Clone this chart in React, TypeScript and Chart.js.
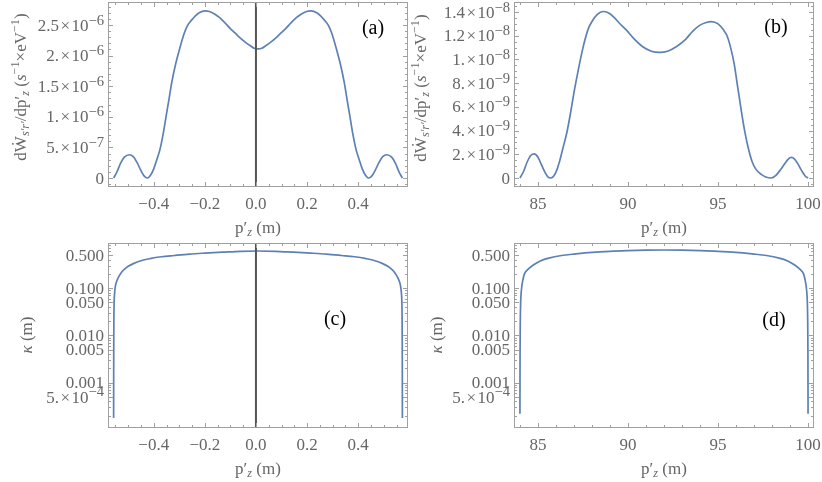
import React, { useEffect, useRef } from "react";
import { Chart, registerables } from "chart.js";

Chart.register(...registerables);

const SERIF = "'Liberation Serif', 'Times New Roman', 'DejaVu Serif', serif";
const CURVE = "#5e81b5";
const FRAME = "#a0a0a0";
const TEXT = "#666666";
const ZERO = "#555555";

// ---------------- Panel (a) ----------------
const xA = [-0.557, -0.545, -0.530, -0.515, -0.496, -0.480, -0.465, -0.450, -0.437, -0.425,
  -0.412, -0.400, -0.388, -0.376, -0.364, -0.352, -0.341, -0.330, -0.315, -0.300,
  -0.281, -0.268, -0.252, -0.237, -0.222, -0.200, -0.182, -0.162, -0.142, -0.122,
  -0.102, -0.082, -0.062, -0.042, -0.022, -0.007, 0.008,
  0.023, 0.038, 0.058, 0.078, 0.098, 0.118, 0.138, 0.158, 0.178, 0.198,
  0.216, 0.238, 0.253, 0.268, 0.284, 0.297, 0.316, 0.331, 0.346, 0.357,
  0.368, 0.380, 0.392, 0.404, 0.416, 0.428, 0.441, 0.453, 0.466, 0.481,
  0.496, 0.512, 0.531, 0.546, 0.561, 0.573];
const yA = [0, 0.09e-6, 0.24e-6, 0.34e-6, 0.38e-6, 0.35e-6, 0.25e-6, 0.12e-6, 0.03e-6, 0,
  0.05e-6, 0.15e-6, 0.30e-6, 0.46e-6, 0.70e-6, 1.00e-6, 1.27e-6, 1.55e-6, 1.85e-6, 2.09e-6,
  2.36e-6, 2.49e-6, 2.58e-6, 2.65e-6, 2.70e-6, 2.73e-6, 2.72e-6, 2.68e-6, 2.62e-6, 2.54e-6,
  2.45e-6, 2.37e-6, 2.29e-6, 2.22e-6, 2.16e-6, 2.12e-6, 2.11e-6,
  2.12e-6, 2.16e-6, 2.22e-6, 2.29e-6, 2.37e-6, 2.45e-6, 2.54e-6, 2.62e-6, 2.68e-6, 2.72e-6,
  2.73e-6, 2.70e-6, 2.65e-6, 2.58e-6, 2.49e-6, 2.36e-6, 2.09e-6, 1.85e-6, 1.55e-6, 1.27e-6,
  1.00e-6, 0.70e-6, 0.46e-6, 0.30e-6, 0.15e-6, 0.05e-6, 0, 0.03e-6, 0.12e-6, 0.25e-6,
  0.35e-6, 0.38e-6, 0.34e-6, 0.24e-6, 0.09e-6, 0];

// ---------------- Panel (b) ----------------
const xB = [84.0, 84.2, 84.4, 84.6, 84.8, 85.0, 85.2, 85.4, 85.55, 85.7,
  85.85, 86.0, 86.2, 86.4, 86.6, 86.8, 87.0, 87.2, 87.4, 87.6,
  87.8, 88.0, 88.3, 88.6, 88.9, 89.2, 89.5, 89.9, 90.3, 90.8,
  91.3, 91.75, 92.2, 92.7, 93.2, 93.6, 94.0, 94.3, 94.65, 95.0,
  95.3, 95.5, 95.7, 95.9, 96.1, 96.3, 96.5, 96.7, 96.9, 97.1,
  97.4, 97.65, 97.96, 98.2, 98.45, 98.7, 98.9, 99.07, 99.25, 99.45,
  99.65, 99.85, 100.0];
const yB = [0, 0.55e-9, 1.35e-9, 1.9e-9, 2.03e-9, 1.75e-9, 1.1e-9, 0.45e-9, 0.1e-9, 0,
  0.12e-9, 0.5e-9, 1.4e-9, 2.6e-9, 3.8e-9, 5.4e-9, 7.2e-9, 8.8e-9, 10.3e-9, 11.6e-9,
  12.6e-9, 13.2e-9, 13.8e-9, 14.05e-9, 13.95e-9, 13.6e-9, 13.1e-9, 12.5e-9, 11.8e-9, 11.1e-9,
  10.7e-9, 10.6e-9, 10.7e-9, 11.1e-9, 11.7e-9, 12.4e-9, 12.9e-9, 13.1e-9, 13.2e-9, 13.0e-9,
  12.5e-9, 12.0e-9, 11.0e-9, 9.6e-9, 7.6e-9, 5.6e-9, 3.8e-9, 2.4e-9, 1.35e-9, 0.75e-9,
  0.3e-9, 0.08e-9, 0, 0.2e-9, 0.65e-9, 1.2e-9, 1.6e-9, 1.74e-9, 1.6e-9, 1.15e-9,
  0.6e-9, 0.15e-9, 0];

// ---------------- Panel (c) ----------------
const xC = [-0.557, -0.5568, -0.5565, -0.556, -0.555, -0.553, -0.550, -0.545, -0.538, -0.528,
  -0.515, -0.500, -0.480, -0.450, -0.415, -0.370, -0.320, -0.260, -0.200, -0.130,
  -0.060, 0.008, 0.076, 0.146, 0.216, 0.276, 0.336, 0.386, 0.431, 0.466,
  0.496, 0.516, 0.531, 0.544, 0.554, 0.561, 0.566, 0.569, 0.571, 0.572,
  0.5725, 0.5728, 0.573];
const yC = [0.00018, 0.001, 0.005, 0.02, 0.05, 0.08, 0.11, 0.14, 0.17, 0.21,
  0.25, 0.29, 0.33, 0.38, 0.42, 0.46, 0.49, 0.525, 0.55, 0.575,
  0.60, 0.61, 0.60, 0.575, 0.55, 0.525, 0.49, 0.46, 0.42, 0.38,
  0.33, 0.29, 0.25, 0.21, 0.17, 0.14, 0.11, 0.08, 0.05, 0.02,
  0.005, 0.001, 0.00018];

// ---------------- Panel (d) ----------------
const xD = [84.0, 84.003, 84.008, 84.02, 84.04, 84.08, 84.15, 84.25, 84.4, 84.7,
  85.1, 85.6, 86.3, 87.1, 88.0, 89.0, 90.0, 91.0, 92.0, 93.0,
  94.0, 95.0, 96.0, 96.9, 97.7, 98.4, 98.9, 99.3, 99.6, 99.75,
  99.85, 99.92, 99.96, 99.98, 99.992, 99.997, 100.0];
const yD = [0.00022, 0.001, 0.005, 0.02, 0.05, 0.09, 0.14, 0.20, 0.24, 0.30,
  0.37, 0.43, 0.49, 0.53, 0.57, 0.60, 0.62, 0.635, 0.64, 0.635,
  0.62, 0.60, 0.57, 0.53, 0.49, 0.43, 0.37, 0.30, 0.24, 0.20,
  0.14, 0.09, 0.05, 0.02, 0.005, 0.001, 0.00022];

// ---------------- Ticks ----------------
const xTicksSmall = [-0.4, -0.2, 0, 0.2, 0.4];
const xLabelsSmall = ["\u22120.4", "\u22120.2", "0.0", "0.2", "0.4"];
const xMinorSmall = [-0.55, -0.5, -0.45, -0.35, -0.3, -0.25, -0.15, -0.1, -0.05,
  0.05, 0.1, 0.15, 0.25, 0.3, 0.35, 0.45, 0.5, 0.55];
const xTicksLarge = [85, 90, 95, 100];
const xLabelsLarge = ["85", "90", "95", "100"];
const xMinorLarge = [84, 86, 87, 88, 89, 91, 92, 93, 94, 96, 97, 98, 99];

// "^" separates the mantissa part from the superscript exponent
const yTicksA = [0, 5e-7, 1e-6, 1.5e-6, 2e-6, 2.5e-6];
const yLabelsA = ["0", "5.\u200a\u00d7\u200a10^\u22127", "1.\u200a\u00d7\u200a10^\u22126", "1.5\u200a\u00d7\u200a10^\u22126",
  "2.\u200a\u00d7\u200a10^\u22126", "2.5\u200a\u00d7\u200a10^\u22126"];
const yMinorA = [-1e-7, 1e-7, 2e-7, 3e-7, 4e-7, 6e-7, 7e-7, 8e-7, 9e-7, 1.1e-6, 1.2e-6, 1.3e-6, 1.4e-6,
  1.6e-6, 1.7e-6, 1.8e-6, 1.9e-6, 2.1e-6, 2.2e-6, 2.3e-6, 2.4e-6, 2.6e-6, 2.7e-6, 2.8e-6];

const yTicksB = [0, 2e-9, 4e-9, 6e-9, 8e-9, 1e-8, 1.2e-8, 1.4e-8];
const yLabelsB = ["0", "2.\u200a\u00d7\u200a10^\u22129", "4.\u200a\u00d7\u200a10^\u22129", "6.\u200a\u00d7\u200a10^\u22129",
  "8.\u200a\u00d7\u200a10^\u22129", "1.\u200a\u00d7\u200a10^\u22128", "1.2\u200a\u00d7\u200a10^\u22128", "1.4\u200a\u00d7\u200a10^\u22128"];
const yMinorB = [-5e-10, 5e-10, 1e-9, 1.5e-9, 2.5e-9, 3e-9, 3.5e-9, 4.5e-9, 5e-9, 5.5e-9, 6.5e-9, 7e-9, 7.5e-9,
  8.5e-9, 9e-9, 9.5e-9, 1.05e-8, 1.1e-8, 1.15e-8, 1.25e-8, 1.3e-8, 1.35e-8, 1.45e-8];

const yTicksLog = [5e-4, 0.001, 0.005, 0.01, 0.05, 0.1, 0.5];
const yLabelsLog = ["5.\u200a\u00d7\u200a10^\u22124", "0.001", "0.005", "0.010", "0.050", "0.100", "0.500"];
const yMinorLog = [2e-4, 3e-4, 4e-4, 6e-4, 7e-4, 8e-4, 9e-4, 0.002, 0.003, 0.004, 0.006, 0.007, 0.008, 0.009,
  0.02, 0.03, 0.04, 0.06, 0.07, 0.08, 0.09, 0.2, 0.3, 0.4, 0.6, 0.7, 0.8];

const TICK_F = 17;
const TITLE_F = 17;

// ---------------- Rich text helper ----------------
type Seg = { t: string; s?: "sub" | "sup"; i?: boolean };

function segFont(seg: Seg, F: number, supScale: number) {
  const size = seg.s ? F * supScale : F;
  return `${seg.i ? "italic " : ""}${size}px ${SERIF}`;
}

function drawRich(ctx: CanvasRenderingContext2D, segs: Seg[], cx: number, cy: number, rotate: boolean, F: number, color: string,
  align: "center" | "right" = "center", supScale = 0.72) {
  ctx.save();
  ctx.translate(cx, cy);
  if (rotate) ctx.rotate(-Math.PI / 2);
  ctx.fillStyle = color;
  ctx.textBaseline = "alphabetic";
  ctx.textAlign = "left";
  let total = 0;
  const widths = segs.map((s) => {
    ctx.font = segFont(s, F, supScale);
    const w = ctx.measureText(s.t).width;
    total += w;
    return w;
  });
  let x = align === "center" ? -total / 2 : -total;
  const base = F * 0.33;
  segs.forEach((s, k) => {
    ctx.font = segFont(s, F, supScale);
    const dy = s.s === "sub" ? F * 0.22 : s.s === "sup" ? -F * 0.36 : 0;
    ctx.fillText(s.t, x, base + dy);
    x += widths[k];
  });
  ctx.restore();
}

function labelSegs(label: string): Seg[] {
  const k = label.indexOf("^");
  if (k < 0) return [{ t: label }];
  return [{ t: label.slice(0, k) }, { t: label.slice(k + 1), s: "sup" }];
}

const X_TITLE: Seg[] = [{ t: "p\u2032" }, { t: "z", s: "sub", i: true }, { t: " (m)" }];
const W_TITLE: Seg[] = [
  { t: "d\u1e86" }, { t: "s\u2032r\u2032", s: "sub", i: true }, { t: "/dp\u2032" }, { t: "z", s: "sub", i: true },
  { t: " (" }, { t: "s", i: true }, { t: "\u22121", s: "sup" }, { t: "\u00d7eV" }, { t: "\u22121", s: "sup" }, { t: ")" },
];
const K_TITLE: Seg[] = [{ t: "\u03ba", i: true }, { t: " (m)" }];

type PanelCfg = {
  xs: number[]; ys: number[];
  xMin: number; xMax: number; yMin: number; yMax: number; log: boolean;
  xTicks: number[]; xLabels: string[]; xMinor: number[];
  yTicks: number[]; yLabels: string[]; yMinor: number[];
  yAxisW: number; padRight: number; zeroLine: boolean;
  yTitle: Seg[]; yTitlePos: [number, number];
  label: string; labelPos: [number, number];
};

function makeFramePlugin(p: PanelCfg) {
  return {
    id: "frame",
    afterDraw(chart: any) {
      const { ctx, chartArea: a } = chart;
      const xs = chart.scales.x, ys = chart.scales.y;
      ctx.save();
      ctx.strokeStyle = FRAME;
      ctx.lineWidth = 1;
      const L = Math.round(a.left) + 0.5, R = Math.round(a.right) - 0.5;
      const T = Math.round(a.top) + 0.5, B = Math.round(a.bottom) - 0.5;
      ctx.strokeRect(L, T, R - L, B - T);
      ctx.beginPath();
      const tickX = (v: number, len: number) => {
        const q = Math.round(xs.getPixelForValue(v)) + 0.5;
        if (q < L || q > R) return;
        ctx.moveTo(q, B); ctx.lineTo(q, B - len);
        ctx.moveTo(q, T); ctx.lineTo(q, T + len);
      };
      const tickY = (v: number, len: number) => {
        const q = Math.round(ys.getPixelForValue(v)) + 0.5;
        if (q < T || q > B) return;
        ctx.moveTo(L, q); ctx.lineTo(L + len, q);
        ctx.moveTo(R, q); ctx.lineTo(R - len, q);
      };
      p.xTicks.forEach((v) => tickX(v, 4.5));
      p.xMinor.forEach((v) => tickX(v, 2.5));
      p.yTicks.forEach((v) => tickY(v, 4.5));
      p.yMinor.forEach((v) => tickY(v, 2.5));
      ctx.stroke();
      ctx.restore();
      // y tick labels positioned by the y scale
      p.yTicks.forEach((v, i) => {
        drawRich(ctx, labelSegs(p.yLabels[i]), a.left - 4, ys.getPixelForValue(v), false, TICK_F, TEXT, "right", 0.86);
      });
      drawRich(ctx, X_TITLE, (a.left + a.right) / 2, 227, false, TITLE_F, TEXT);
      drawRich(ctx, p.yTitle, p.yTitlePos[0], p.yTitlePos[1], true, TITLE_F, TEXT);
      ctx.save();
      ctx.fillStyle = "#000";
      ctx.font = `20px ${SERIF}`;
      ctx.textAlign = "center";
      ctx.textBaseline = "middle";
      ctx.fillText(p.label, p.labelPos[0], p.labelPos[1]);
      ctx.restore();
    },
  };
}

function zeroPad(s: any) {
  s.paddingLeft = 0; s.paddingRight = 0; s.paddingTop = 0; s.paddingBottom = 0;
}

function buildConfig(p: PanelCfg): any {
  const datasets: any[] = [];
  if (p.zeroLine) {
    datasets.push({
      data: [{ x: 0, y: p.yMin }, { x: 0, y: p.yMax }],
      borderColor: ZERO, borderWidth: 2, pointRadius: 0, tension: 0, order: 0,
    });
  }
  datasets.push({
    data: p.xs.map((x, i) => ({ x, y: p.ys[i] })),
    borderColor: CURVE, borderWidth: 1.7, pointRadius: 0,
    cubicInterpolationMode: "monotone", order: 1,
  });
  const tickFont = { family: SERIF, size: TICK_F };
  return {
    type: "line",
    data: { datasets },
    options: {
      animation: false,
      responsive: false,
      events: [],
      layout: { padding: { top: 2, right: p.padRight, left: 0, bottom: 0 } },
      plugins: { legend: { display: false }, tooltip: { enabled: false } },
      scales: {
        x: {
          type: "linear", min: p.xMin, max: p.xMax,
          grid: { display: false, drawTicks: false }, border: { display: false },
          ticks: {
            autoSkip: false, maxRotation: 0, padding: 7, color: TEXT, font: tickFont,
            callback: (_v: any, i: number) => p.xLabels[i],
          },
          afterBuildTicks: (s: any) => { s.ticks = p.xTicks.map((v) => ({ value: v })); },
          afterFit: (s: any) => { s.height = 54; zeroPad(s); },
        },
        y: {
          type: p.log ? "logarithmic" : "linear", min: p.yMin, max: p.yMax,
          grid: { display: false, drawTicks: false }, border: { display: false },
          ticks: { display: false },
          afterBuildTicks: (s: any) => { s.ticks = p.yTicks.map((v) => ({ value: v })); },
          afterFit: (s: any) => { s.width = p.yAxisW; zeroPad(s); },
        },
      },
    },
    plugins: [makeFramePlugin(p)],
  };
}

const PANELS: { cfg: PanelCfg; left: number; top: number }[] = [
  {
    left: 0, top: 0,
    cfg: {
      xs: xA, ys: yA, xMin: -0.579, xMax: 0.595, yMin: -0.147e-6, yMax: 2.876e-6, log: false,
      xTicks: xTicksSmall, xLabels: xLabelsSmall, xMinor: xMinorSmall,
      yTicks: yTicksA, yLabels: yLabelsA, yMinor: yMinorA,
      yAxisW: 108, padRight: 3, zeroLine: true,
      yTitle: W_TITLE, yTitlePos: [20, 87], label: "(a)", labelPos: [373, 29],
    },
  },
  {
    left: 411, top: 0,
    cfg: {
      xs: xB, ys: yB, xMin: 83.67, xMax: 100.33, yMin: -0.76e-9, yMax: 14.85e-9, log: false,
      xTicks: xTicksLarge, xLabels: xLabelsLarge, xMinor: xMinorLarge,
      yTicks: yTicksB, yLabels: yLabelsB, yMinor: yMinorB,
      yAxisW: 103, padRight: 8, zeroLine: false,
      yTitle: W_TITLE, yTitlePos: [9, 88], label: "(b)", labelPos: [365, 28],
    },
  },
  {
    left: 0, top: 241,
    cfg: {
      xs: xC, ys: yC, xMin: -0.579, xMax: 0.595, yMin: 1.1e-4, yMax: 0.9, log: true,
      xTicks: xTicksSmall, xLabels: xLabelsSmall, xMinor: xMinorSmall,
      yTicks: yTicksLog, yLabels: yLabelsLog, yMinor: yMinorLog,
      yAxisW: 108, padRight: 3, zeroLine: true,
      yTitle: K_TITLE, yTitlePos: [26, 94], label: "(c)", labelPos: [335, 79],
    },
  },
  {
    left: 411, top: 241,
    cfg: {
      xs: xD, ys: yD, xMin: 83.67, xMax: 100.33, yMin: 1.1e-4, yMax: 0.9, log: true,
      xTicks: xTicksLarge, xLabels: xLabelsLarge, xMinor: xMinorLarge,
      yTicks: yTicksLog, yLabels: yLabelsLog, yMinor: yMinorLog,
      yAxisW: 103, padRight: 8, zeroLine: false,
      yTitle: K_TITLE, yTitlePos: [25, 94], label: "(d)", labelPos: [363, 80],
    },
  },
];

function Panel({ cfg, left, top }: { cfg: PanelCfg; left: number; top: number }) {
  const ref = useRef<HTMLCanvasElement>(null);
  useEffect(() => {
    const chart = new Chart(ref.current as HTMLCanvasElement, buildConfig(cfg));
    return () => chart.destroy();
  }, [cfg]);
  return (
    <canvas
      ref={ref}
      width={411}
      height={241}
      style={{ position: "absolute", left, top, width: 411, height: 241 }}
    />
  );
}

export default function App() {
  return (
    <div style={{ position: "absolute", left: 0, top: 0, width: 822, height: 482, background: "#fff", overflow: "hidden" }}>
      {PANELS.map((p, i) => (
        <Panel key={i} cfg={p.cfg} left={p.left} top={p.top} />
      ))}
    </div>
  );
}
